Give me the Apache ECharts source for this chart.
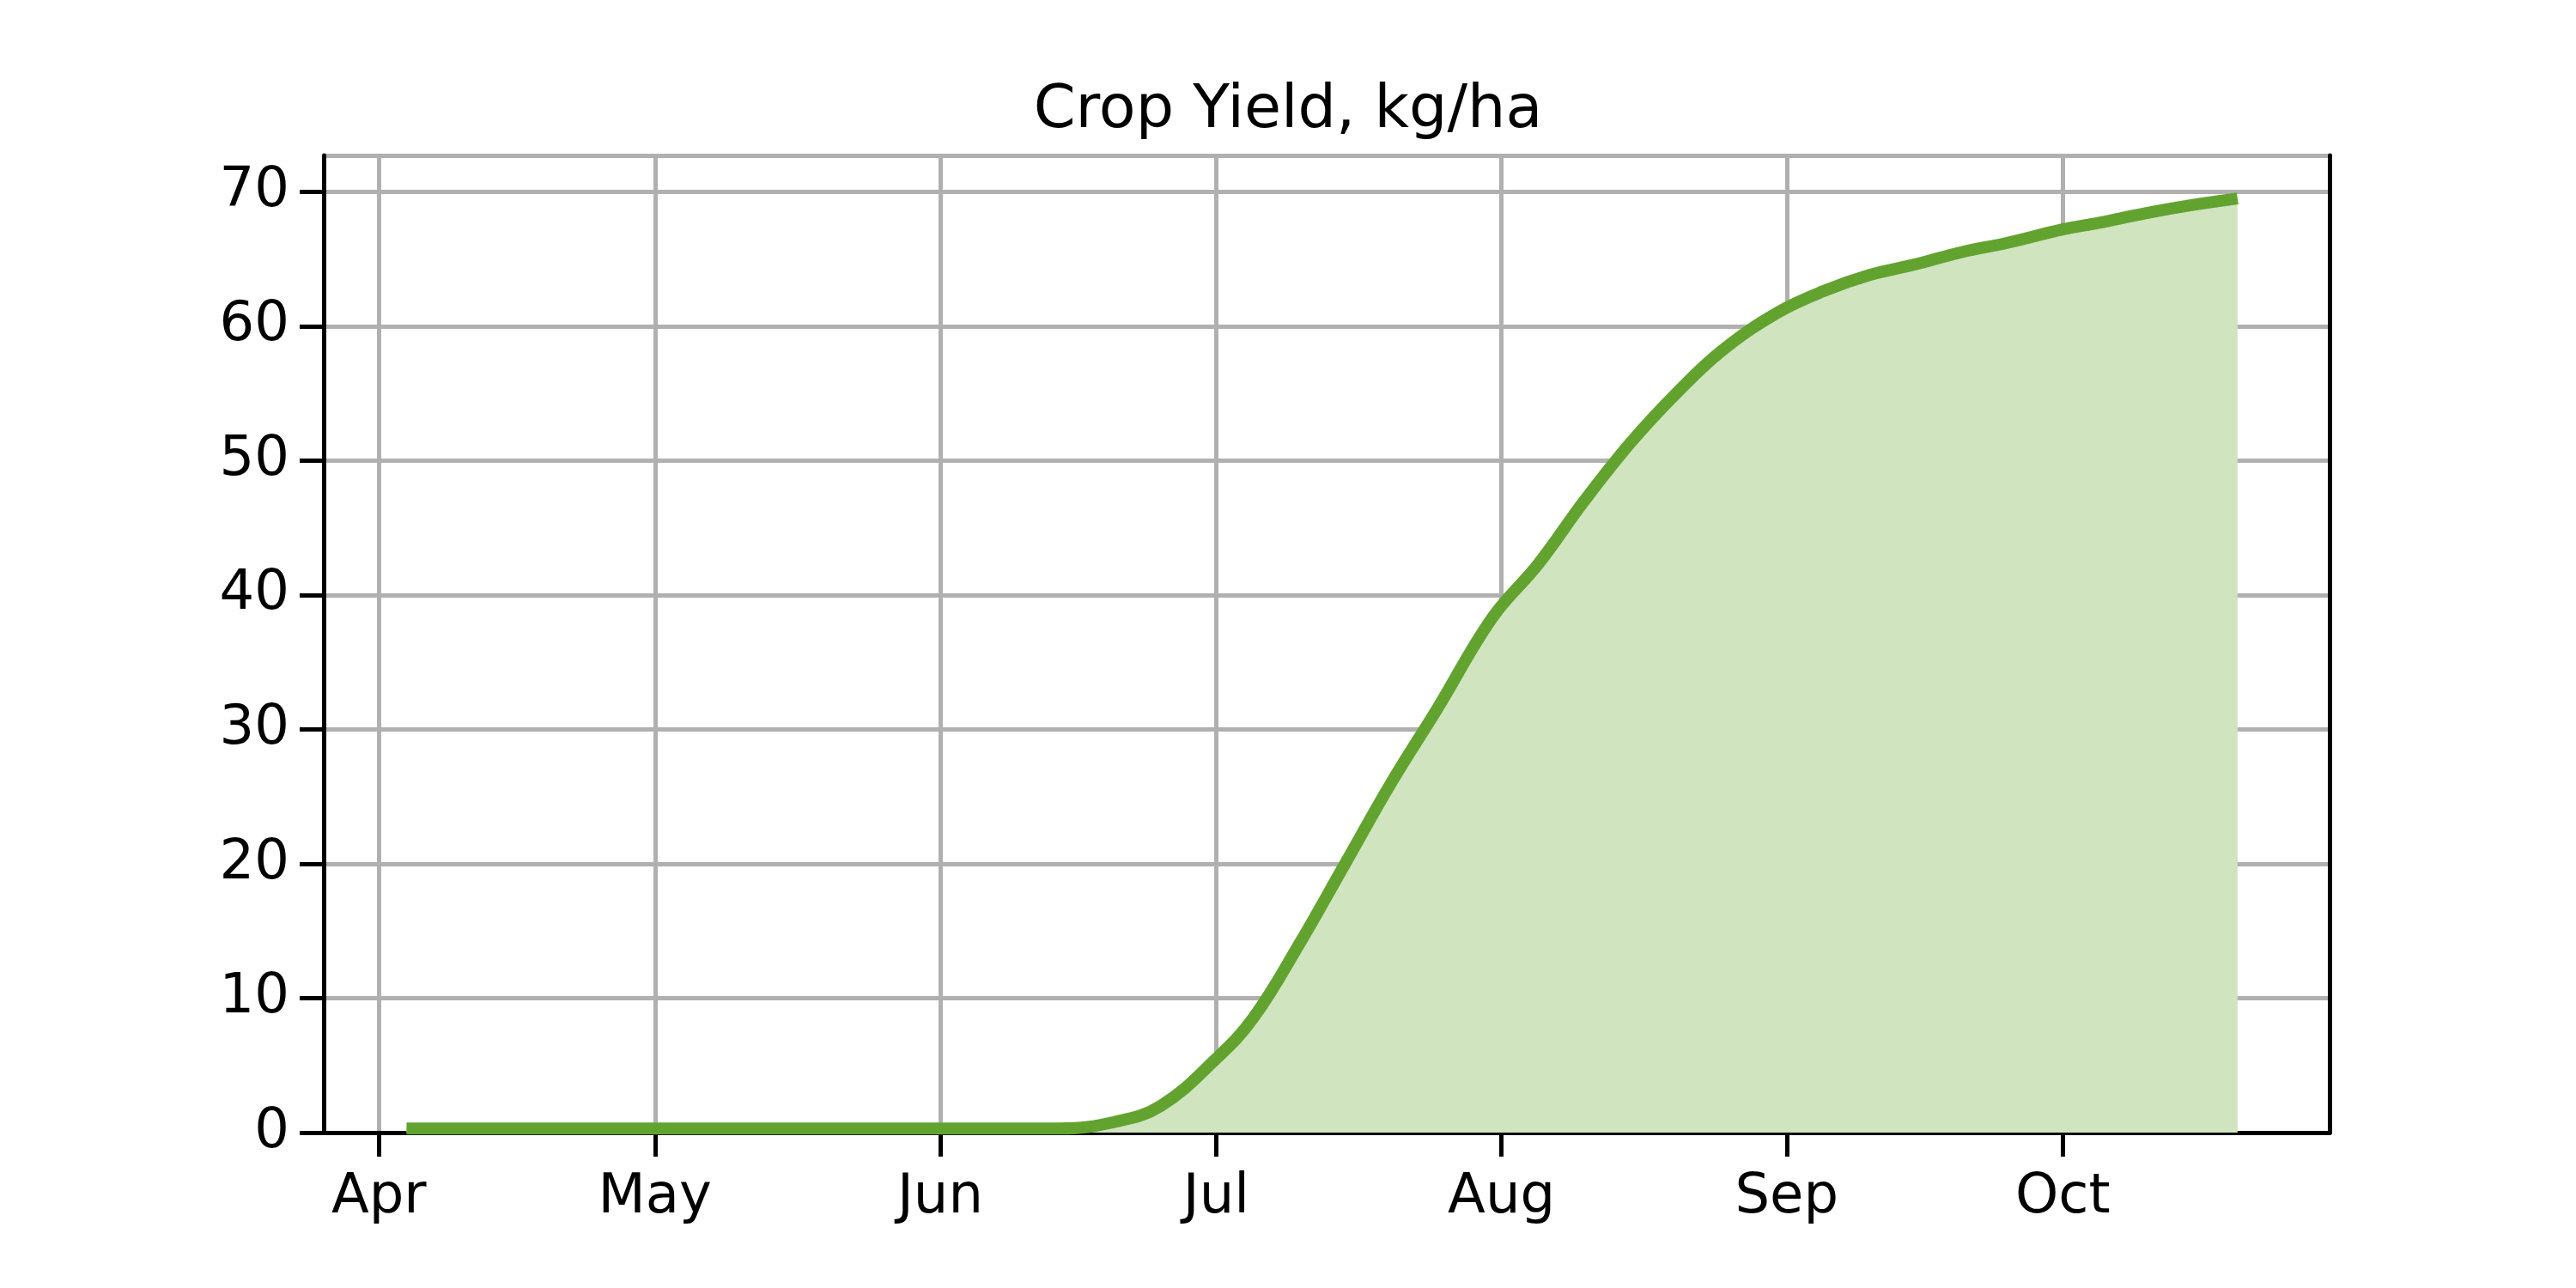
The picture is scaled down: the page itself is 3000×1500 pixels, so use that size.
<!DOCTYPE html>
<html>
<head>
<meta charset="utf-8">
<script src="https://cdn.jsdelivr.net/npm/echarts@6/dist/echarts.min.js"></script>
<style>html,body{margin:0;padding:0;background:#fff}#main{width:3000px;height:1500px}</style>
</head>
<body>
<div id="main"></div>
<script>
// crop yield readings (date, kg/ha)
const dates = ['2023-04-04','2023-04-15','2023-05-01','2023-05-15','2023-06-01','2023-06-14','2023-06-20','2023-06-25',
  '2023-07-01','2023-07-05','2023-07-10','2023-07-15','2023-07-20','2023-07-25','2023-07-31',
  '2023-08-05','2023-08-10','2023-08-15','2023-08-20','2023-08-25','2023-08-31',
  '2023-09-05','2023-09-10','2023-09-15','2023-09-20','2023-09-25','2023-10-01',
  '2023-10-05','2023-10-10','2023-10-15','2023-10-20'];
const yieldVals = [0.3,0.3,0.3,0.3,0.3,0.3,0.8,2.0,
  5.5,8.5,14,20,26,31.5,38.3,
  42.3,47,51.3,55,58.2,61,
  62.6,63.8,64.6,65.5,66.2,67.2,
  67.7,68.4,69.0,69.5];

var chartDom = document.getElementById('main');
var myChart = echarts.init(chartDom, null, { renderer: 'canvas' });
const font = 'DejaVu Sans';
const xMin = new Date('2023-03-26').getTime();
const xMax = new Date('2023-10-30').getTime();
const frame = { show: true, lineStyle: { color: '#000', width: 5 } };
var option = {
    animation: false,
    title: {
        text: 'Crop Yield, kg/ha', left: 'center', top: 90,
        textStyle: { fontFamily: font, fontSize: 70, fontWeight: 'normal', color: '#000' }
    },
    grid: { left: 377, right: 287, top: 181, bottom: 181 },
    xAxis: [{
        type: 'time', min: xMin, max: xMax,
        minInterval: 28 * 86400000,
        axisLine: frame,
        axisTick: { show: true, inside: false, length: 28, lineStyle: { color: '#000', width: 5 } },
        axisLabel: { formatter: '{MMM}', fontFamily: font, fontSize: 64, color: '#000', margin: 44, showMinLabel: false, showMaxLabel: false },
        splitLine: { show: true, lineStyle: { color: '#b0b0b0', width: 5 } }
    }, {
        type: 'time', min: xMin, max: xMax, position: 'top',
        axisLine: frame, axisTick: { show: false }, axisLabel: { show: false }, splitLine: { show: false }
    }],
    yAxis: [{
        type: 'value', min: 0, max: 72.7, interval: 10,
        axisLine: frame,
        axisTick: { show: true, length: 28, lineStyle: { color: '#000', width: 5 } },
        axisLabel: { fontFamily: font, fontSize: 64, color: '#000', margin: 40, showMaxLabel: false },
        splitLine: { show: true, lineStyle: { color: '#b0b0b0', width: 5 } }
    }, {
        type: 'value', min: 0, max: 72.7, position: 'right',
        axisLine: frame, axisTick: { show: false }, axisLabel: { show: false }, splitLine: { show: false }
    }],
    series: [{
        type: 'line',
        smooth: 0.4,
        symbol: 'none',
        data: dates.map((d, i) => [d, yieldVals[i]]),
        lineStyle: { color: '#62a330', width: 14 },
        areaStyle: { color: '#d0e4c0', opacity: 1 }
    }]
};
option && myChart.setOption(option);
</script>
</body>
</html>
